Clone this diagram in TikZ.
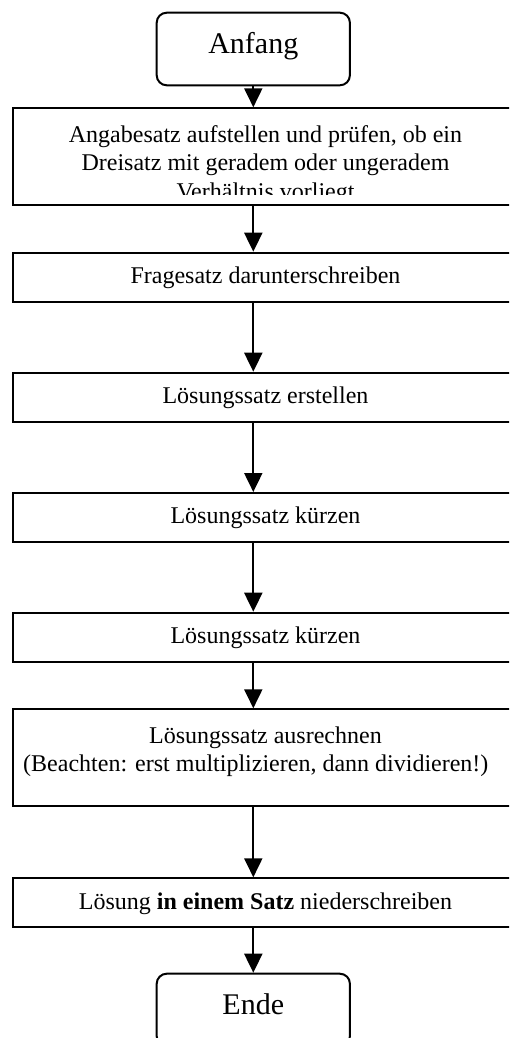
\documentclass[tikz,border=0pt]{standalone}
\usepackage{fontspec}
\setmainfont{Liberation Serif}
\usetikzlibrary{arrows.meta}

\tikzset{
  flow/.style={draw=black, line width=1pt, inner sep=0pt, minimum width=252.8pt,
    font=\fontsize{12}{14.2}\selectfont},
  oneline/.style={flow, text height=15.4pt, text depth=9.1pt},
  twoline/.style={flow, text height=17pt, text depth=31.4pt},
  terminal/.style={draw=black, line width=1pt, rounded corners=5pt, inner sep=0pt,
    minimum width=96.6pt, text height=20.3pt, text depth=16pt,
    font=\fontsize{15}{18}\selectfont},
  flowarrow/.style={draw=black, line width=1pt, -{Triangle[width=9pt,length=9.5pt]}}
}

\begin{document}
\begin{tikzpicture}[x=0.5pt,y=-0.5pt]
\useasboundingbox (0,0) rectangle (509,1038);
\clip (0,0) rectangle (509,1038);
\node[terminal, anchor=north] (anfang) at (253.3,11.7) {Anfang};
\node[twoline, anchor=north] (angabe) at (265.5,107.3) {};
\begin{scope}
\clip (angabe.north west) rectangle ([yshift=6pt]angabe.south east);
\node[twoline, draw=none, anchor=north] (angabetext) at (angabe.north)
  {\parbox[t]{248pt}{\centering Angabesatz aufstellen und prüfen, ob ein\\
   Dreisatz mit geradem oder ungeradem\\ Verhältnis vorliegt}};
\end{scope}
\node[oneline, anchor=north] (frage) at (265.5,251.7) {Fragesatz darunterschreiben};
\node[oneline, anchor=north] (loesung) at (265.5,371.7) {Lösungssatz erstellen};
\node[oneline, anchor=north] (kuerzen) at (265.5,492) {Lösungssatz kürzen};
\node[oneline, anchor=north] (kuerzenb) at (265.5,611.7) {Lösungssatz kürzen};
\node[twoline, anchor=north] (rechnen) at (265.5,708.3)
  {\parbox[t]{248pt}{\centering Lösungssatz ausrechnen\\
   (Beachten: erst multiplizieren, dann dividieren!)\hspace*{9.7pt}}};
\node[oneline, anchor=north] (antwort) at (265.5,877.3)
  {Lösung \textbf{in einem Satz} niederschreiben};
\node[terminal, anchor=north] (ende) at (253.3,972.7) {Ende};
\draw[flowarrow] (anfang.south) -- (anfang.south |- angabe.north);
\draw[flowarrow] (angabe.south -| anfang.south) -- (frage.north -| anfang.south);
\draw[flowarrow] (frage.south -| anfang.south) -- (loesung.north -| anfang.south);
\draw[flowarrow] (loesung.south -| anfang.south) -- (kuerzen.north -| anfang.south);
\draw[flowarrow] (kuerzen.south -| anfang.south) -- (kuerzenb.north -| anfang.south);
\draw[flowarrow] (kuerzenb.south -| anfang.south) -- (rechnen.north -| anfang.south);
\draw[flowarrow] (rechnen.south -| anfang.south) -- (antwort.north -| anfang.south);
\draw[flowarrow] (antwort.south -| anfang.south) -- (ende.north);
\end{tikzpicture}
\end{document}
